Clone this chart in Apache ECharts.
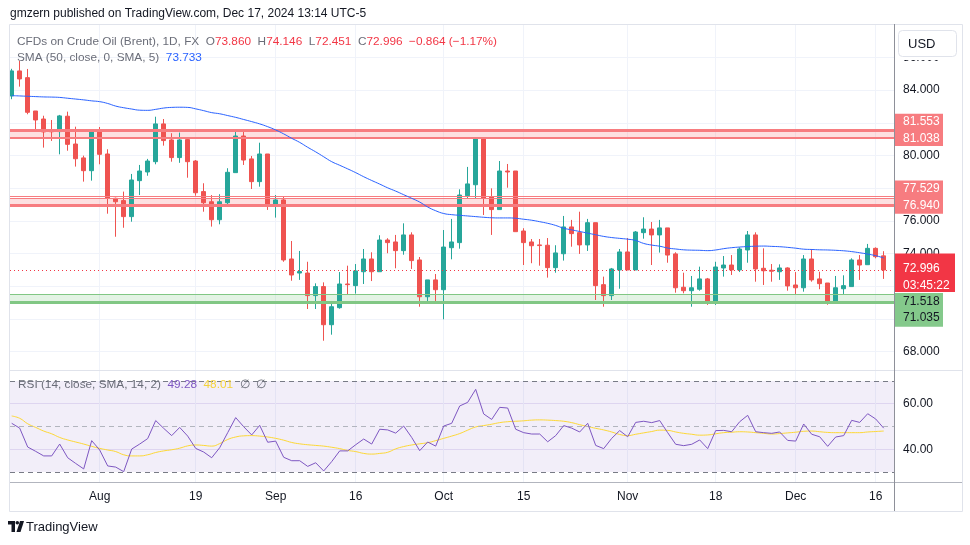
<!DOCTYPE html>
<html><head><meta charset="utf-8">
<script src="https://cdn.jsdelivr.net/npm/echarts@6/dist/echarts.min.js"></script>
<style>html,body{margin:0;padding:0;background:#fff;}#c{width:970px;height:545px;}</style>
</head><body><div id="c"></div>
<script>
// ---- data (daily bars, Jul 17 – Dec 17 2024) ----
const opens = [83.64,85.17,84.76,82.72,82.23,81.50,81.46,82.40,80.70,79.85,79.07,81.50,80.09,77.38,77.24,76.26,78.46,78.99,79.62,81.93,80.95,79.87,80.97,79.66,77.79,77.17,76.07,77.11,78.95,81.19,79.79,78.40,80.09,76.95,77.28,73.67,72.81,72.81,71.43,71.98,69.65,70.69,72.14,72.04,72.89,73.67,72.89,74.83,74.71,74.18,75.14,73.61,71.36,72.39,71.79,74.36,74.67,77.54,78.21,81.01,77.48,76.69,79.05,79.05,75.38,74.71,74.53,74.51,73.14,73.99,75.63,75.28,74.53,75.89,72.10,71.43,73.00,74.10,73.00,75.28,75.50,75.14,75.57,73.98,71.94,71.73,71.82,72.45,70.96,73.12,73.30,73.00,74.22,75.14,73.10,72.98,72.89,73.12,72.08,71.91,73.67,72.45,72.20,71.00,71.85,71.98,73.61,73.32,74.32,73.860];
const closes = [85.17,84.68,82.64,82.17,81.44,81.45,82.42,80.68,79.80,79.07,81.50,80.07,77.38,77.17,76.26,78.50,79.05,79.66,81.93,80.91,79.87,80.95,79.62,77.72,77.11,76.07,77.17,78.97,81.19,79.72,78.40,80.09,76.91,77.28,73.61,72.69,72.90,71.43,71.98,69.65,70.75,72.14,72.10,72.94,73.67,72.89,74.83,74.67,74.18,75.14,73.57,71.36,72.39,71.79,74.40,74.71,77.58,78.26,81.01,77.38,76.69,79.05,78.99,75.34,74.67,74.48,74.49,73.14,74.04,75.63,75.22,74.53,75.89,72.04,71.43,73.06,74.10,73.00,75.32,75.50,75.14,75.57,73.91,71.91,71.73,71.91,72.45,70.96,73.18,73.30,73.00,74.28,75.14,73.06,72.95,72.92,73.12,72.02,71.91,73.67,72.39,72.16,71.00,71.91,72.04,73.61,73.30,74.32,73.81,72.996];
const lows = [83.44,84.21,82.52,81.56,80.48,80.89,80.07,80.29,79.32,78.40,78.46,79.46,76.44,75.03,75.58,75.95,77.58,78.76,79.46,80.60,79.62,79.55,78.64,77.54,76.56,75.65,75.79,77.03,78.95,79.42,77.95,78.09,76.67,76.20,73.50,72.34,72.39,70.61,70.61,68.67,69.04,70.63,71.49,71.55,72.14,72.32,72.89,74.02,73.10,73.93,73.06,70.75,70.96,71.04,69.98,73.65,74.30,77.34,77.34,76.36,75.14,76.69,78.03,75.34,73.30,73.41,73.26,72.53,72.83,73.57,74.42,73.98,74.16,71.16,70.75,71.16,71.85,73.00,73.00,74.91,73.30,74.06,73.44,71.61,71.57,70.75,71.73,70.86,70.86,72.59,72.69,72.87,73.44,72.28,72.08,72.28,72.39,71.73,71.53,71.67,72.28,71.82,70.87,71.00,71.53,71.98,72.39,73.32,73.71,72.451];
const highs = [85.30,85.78,85.29,82.72,82.43,82.17,82.48,82.68,81.76,79.99,81.52,81.74,80.38,77.42,77.79,78.87,79.42,79.79,82.37,82.23,81.36,81.40,81.01,79.72,78.30,77.58,77.63,79.22,81.56,81.56,79.97,80.78,80.09,77.58,77.48,74.77,74.16,73.50,72.18,72.24,71.10,72.87,73.26,73.36,74.28,74.08,75.12,74.94,75.14,75.85,75.30,73.79,72.39,72.75,75.44,76.12,77.93,79.30,81.11,81.11,77.99,79.66,79.48,79.05,75.55,74.89,74.89,74.95,74.51,76.30,76.06,76.56,76.12,75.89,72.59,73.12,74.28,74.95,75.38,76.22,75.93,76.06,75.57,74.08,72.83,72.63,73.20,72.51,73.50,73.85,73.91,74.38,75.38,75.30,74.32,73.36,73.34,73.16,72.87,73.91,74.28,72.89,72.20,72.63,72.67,73.71,73.91,74.59,74.38,74.146];
const sma50 = [83.66,83.64,83.62,83.60,83.58,83.57,83.55,83.50,83.45,83.40,83.34,83.29,83.18,83.02,82.92,82.84,82.77,82.76,82.82,82.90,82.94,82.95,82.94,82.85,82.74,82.62,82.55,82.44,82.33,82.20,82.07,81.93,81.76,81.56,81.32,81.05,80.80,80.50,80.22,79.92,79.62,79.40,79.18,78.95,78.70,78.47,78.25,78.02,77.82,77.60,77.38,77.15,76.85,76.62,76.45,76.38,76.34,76.30,76.26,76.22,76.19,76.18,76.18,76.16,76.10,76.04,75.95,75.85,75.72,75.55,75.45,75.35,75.25,75.15,75.05,74.98,74.93,74.88,74.80,74.62,74.52,74.45,74.34,74.28,74.23,74.21,74.20,74.18,74.22,74.30,74.36,74.40,74.43,74.45,74.46,74.44,74.42,74.38,74.33,74.27,74.25,74.23,74.22,74.20,74.17,74.12,74.05,73.97,73.87,73.733];
const rsi = [51.4,49.3,41.0,39.1,37.1,37.1,42.3,36.3,33.8,31.4,43.8,39.7,32.7,32.2,30.2,40.1,42.3,44.7,52.6,49.2,46.0,49.6,45.8,40.4,38.8,36.3,40.7,47.3,53.9,49.9,46.3,50.5,43.1,43.6,36.5,35.0,35.0,32.5,34.1,30.5,34.6,39.3,39.3,42.0,44.5,42.3,48.8,48.5,47.1,50.2,45.2,39.4,43.2,41.4,50.2,51.4,59.0,60.6,66.3,55.5,53.1,58.4,58.1,48.8,47.3,46.7,46.7,43.3,46.0,50.4,49.3,47.6,51.4,41.7,40.3,44.8,48.2,45.5,51.8,52.3,51.7,52.6,47.3,42.2,41.6,42.2,44.1,40.3,48.2,48.3,47.7,52.1,54.9,47.7,47.3,47.0,47.6,43.9,43.6,51.1,46.6,45.5,41.3,45.4,46.0,52.7,51.8,55.6,53.3,49.28];
const rsiSma = [54.6,53.6,51.2,49.6,48.0,46.8,45.2,44.1,43.2,42.3,41.3,40.4,39.7,39.0,37.6,37.1,37.1,37.6,38.6,39.3,39.8,40.5,41.5,41.9,41.7,41.4,42.5,44.3,45.4,45.9,46.0,45.8,45.4,44.8,44.0,43.0,42.4,42.0,41.7,41.4,40.9,40.3,39.5,39.0,38.2,37.9,38.2,38.7,40.2,41.2,41.9,42.4,42.9,43.8,44.8,45.8,46.9,48.4,49.8,50.4,51.0,51.7,52.1,52.3,52.5,52.8,52.9,52.8,52.6,52.3,51.7,50.8,50.0,49.2,48.5,47.6,46.5,46.0,46.6,47.2,47.8,48.4,48.3,47.6,47.0,46.6,46.2,46.3,46.8,47.3,47.5,47.7,47.6,47.3,47.0,46.7,46.9,47.2,47.5,47.9,48.0,47.7,47.4,47.3,47.3,47.3,47.3,47.6,47.8,48.01];
const tickIdx = [11,23,33,43,54,64,77,88,98,108];
const tickLabels = ['Aug','19','Sep','16','Oct','15','Nov','18','Dec','16'];
const priceGridVals = [68,70,72,74,76,78,80,82,84,86];
const priceLabelVals = [68,74,76,80,84,86];
const rsiGridVals = [40,60];
const zoneRed1 = [81.553, 81.12, 81.038];
const zoneRed2 = [77.529, 77.40, 76.940];
const zoneGreen = [71.518, 71.035];
const lastPrice = 72.996;
const countdown = '03:45:22';
const changeText = '\u22120.864 (\u22121.17%)';

// ---- chart ----
const FONT = "'Liberation Sans', Arial, sans-serif";
const xMin = -0.2125, xMax = 110.2875;
const GRID = '#F0F3FA';
const RED = '#F77C80', REDF = 'rgba(247,124,128,0.24)', GRN = '#81C784', GRNF = 'rgba(129,199,132,0.22)';
function xAx(gi, labels) {
  return {type:'value', gridIndex:gi, min:xMin, max:xMax,
    axisLine:{show:false}, axisTick:{show:false, customValues:tickIdx},
    splitLine:{show:true, lineStyle:{color:GRID, width:1}},
    axisLabel: labels ? {show:true, customValues:tickIdx, formatter:v=>tickLabels[tickIdx.indexOf(Math.round(v))],
      color:'#131722', fontSize:12, fontFamily:FONT, margin:9} : {show:false}};
}
const candleData = opens.map((o,i)=>[i,o,closes[i],lows[i],highs[i]]);
const ml = (v,w,c,t)=>({yAxis:v, lineStyle:{width:w, color:c, type:t||'solid'}});
const option = {
  animation:false, backgroundColor:'#ffffff',
  grid:[{left:10,right:76,top:24,height:346},{left:10,right:76,top:370,height:112}],
  xAxis:[xAx(0,false), xAx(1,true)],
  yAxis:[
    {type:'value', gridIndex:0, position:'right', min:66.88, max:88.04, scale:true,
     axisLine:{show:false}, axisTick:{show:false, customValues:priceGridVals},
     splitLine:{show:true, lineStyle:{color:GRID}},
     axisLabel:{customValues:priceLabelVals, formatter:v=>v.toFixed(3), color:'#131722', fontSize:12, fontFamily:FONT, margin:9}},
    {type:'value', gridIndex:1, position:'right', min:25.66, max:74.78, scale:true,
     axisLine:{show:false}, axisTick:{show:false, customValues:rsiGridVals},
     splitLine:{show:true, lineStyle:{color:'#E9E4F5'}},
     axisLabel:{customValues:rsiGridVals, formatter:v=>v.toFixed(2), color:'#131722', fontSize:12, fontFamily:FONT, margin:9}}
  ],
  series:[
    {type:'candlestick', xAxisIndex:0, yAxisIndex:0, data:candleData, barWidth:5, clip:true,
     itemStyle:{color:'#26A69A', color0:'#EF5350', borderColor:'#26A69A', borderColor0:'#EF5350', borderWidth:1},
     markArea:{silent:true, data:[
       [{yAxis:zoneRed1[0], itemStyle:{color:REDF}},{yAxis:zoneRed1[1]}],
       [{yAxis:zoneRed2[1], itemStyle:{color:REDF}},{yAxis:zoneRed2[2]}],
       [{yAxis:zoneGreen[0], itemStyle:{color:GRNF}},{yAxis:zoneGreen[1]}]
     ]},
     markLine:{silent:true, symbol:['none','none'], label:{show:false}, data:[
       ml(zoneRed1[0],3,RED), ml(zoneRed1[1],1,RED), ml(zoneRed1[2],1,RED),
       ml(zoneRed2[0],1,RED), ml(zoneRed2[1],1,RED), ml(zoneRed2[2],3,RED),
       ml(zoneGreen[0],1,GRN), ml(zoneGreen[1],3,GRN),
       ml(lastPrice,1,'#F23645',[1,3])
     ]}},
    {type:'line', xAxisIndex:0, yAxisIndex:0, data:sma50.map((v,i)=>[i,v]), showSymbol:false, smooth:true,
     lineStyle:{color:'#2962FF', width:1}, z:5},
    {type:'line', xAxisIndex:1, yAxisIndex:1, data:rsiSma.map((v,i)=>[i,v]), showSymbol:false, smooth:true,
     lineStyle:{color:'#FDD835', width:1}, z:4},
    {type:'line', xAxisIndex:1, yAxisIndex:1, data:rsi.map((v,i)=>[i,v]), showSymbol:false,
     lineStyle:{color:'#7E57C2', width:1}, z:5,
     markArea:{silent:true, data:[[{yAxis:70, itemStyle:{color:'rgba(126,87,194,0.1)'}},{yAxis:30}]]},
     markLine:{silent:true, symbol:['none','none'], label:{show:false}, data:[
       ml(70,1,'#787B86',[5,4]), ml(50,1,'#B2B5BE',[5,4]), ml(30,1,'#787B86',[5,4])]}}
  ]
};
const chart = echarts.init(document.getElementById('c'));
chart.setOption(option);

const py = v => chart.convertToPixel({yAxisIndex:0}, v);
const T = (text, x, y, fill, size, extra) => Object.assign({type:'text', z:100, style:{text, x, y, fill, font:(size||12)+'px '+FONT, verticalAlign:'middle', align:'left'}}, extra||{});
const R = (x,y,w,h,fill,stroke,r) => ({type:'rect', z:99, shape:{x,y,width:w,height:h,r:r||0}, style:{fill, stroke:stroke||null, lineWidth:1}});
const L = (x1,y1,x2,y2,c) => ({type:'line', z:98, shape:{x1,y1,x2,y2}, style:{stroke:c, lineWidth:1}});

const g = [];
// price-scale top strip (hides the upper part of the top tick label)
g.push({type:'rect', z:96, shape:{x:895,y:25,width:67,height:35}, style:{fill:'#ffffff'}});
// frame lines
g.push({type:'rect', z:97, shape:{x:9.5,y:24.5,width:953,height:487}, style:{fill:null, stroke:'#E0E3EB', lineWidth:1}});
g.push(L(10,370.5,962,370.5,'#E0E3EB'));
g.push(L(10,482.5,962,482.5,'#B2B5BE'));
g.push(L(894.5,24,894.5,511,'#8E9099'));
// header
g.push(T('gmzern published on TradingView.com, Dec 17, 2024 13:14 UTC-5', 10, 14, '#131722', 12));
// legends
const GR = '#6A6D78', RD = '#F23645', LF = '11.8px '+FONT;
g.push({type:'text', z:100, style:{x:17, y:42, verticalAlign:'middle', font:LF, fill:GR,
  text:'{g|CFDs on Crude Oil (Brent), 1D, FX}  {g|O}{r|'+opens[109].toFixed(3)+'}  {g|H}{r|'+highs[109].toFixed(3)+'}  {g|L}{r|'+lows[109].toFixed(3)+'}  {g|C}{r|'+closes[109].toFixed(3)+'}  {r|'+changeText+'}',
  rich:{g:{fill:GR, font:LF}, r:{fill:RD, font:LF}}}});
g.push({type:'text', z:100, style:{x:17, y:58, verticalAlign:'middle', font:LF, fill:GR,
  text:'{g|SMA (50, close, 0, SMA, 5)}  {b|'+sma50[109].toFixed(3)+'}',
  rich:{g:{fill:GR, font:LF}, b:{fill:'#2962FF', font:LF}}}});
g.push({type:'text', z:100, style:{x:18, y:385, verticalAlign:'middle', font:LF, fill:GR,
  text:'{g|RSI (14, close, SMA, 14, 2)}  {p|'+rsi[109].toFixed(2)+'}  {y|'+rsiSma[109].toFixed(2)+'}  {g|\u2205  \u2205}',
  rich:{g:{fill:GR, font:LF}, p:{fill:'#7E57C2', font:LF}, y:{fill:'#F5D33A', font:LF}}}});
// USD button
g.push(R(898.5,30.5,58,26,'#ffffff','#E0E3EB',4));
g.push(T('USD', 908, 44, '#131722', 13));
// price tags
const z1 = py(zoneRed1[2]);
g.push(R(895, z1-24.8, 48, 32.3, RED));
g.push(T(zoneRed1[0].toFixed(3), 903, z1-17.3, '#ffffff', 12));
g.push(T(zoneRed1[2].toFixed(3), 903, z1, '#ffffff', 12));
const z2 = py(zoneRed2[2]);
g.push(R(895, z2-25, 48, 33.3, RED));
g.push(T(zoneRed2[0].toFixed(3), 903, z2-17.3, '#ffffff', 12));
g.push(T(zoneRed2[2].toFixed(3), 903, z2, '#ffffff', 12));
const lp = py(lastPrice) - 1.5;
g.push(R(895, lp-15, 60, 38.5, '#F23645'));
g.push(T(lastPrice.toFixed(3), 903, lp, '#ffffff', 12));
g.push(T(countdown, 903, lp+16.7, '#ffffff', 12));
const gz = py(zoneGreen[0]) + 7.5;
g.push(R(895, gz-8.7, 48, 33.7, '#84C98B'));
g.push(T(zoneGreen[0].toFixed(3), 903, gz, '#131722', 12));
g.push(T(zoneGreen[1].toFixed(3), 903, gz+16, '#131722', 12));
// TradingView logo
g.push({type:'rect', z:100, shape:{x:8,y:521,width:7,height:3.5}, style:{fill:'#131722'}});
g.push({type:'rect', z:100, shape:{x:11.5,y:521,width:3.5,height:11}, style:{fill:'#131722'}});
g.push({type:'circle', z:100, shape:{cx:17.3,cy:522.8,r:1.8}, style:{fill:'#131722'}});
g.push({type:'polygon', z:100, shape:{points:[[20,521],[24,521],[20.5,532],[16.5,532]]}, style:{fill:'#131722'}});
g.push(T('TradingView', 26, 527, '#131722', 13));
chart.setOption({graphic:g});
</script>
</body></html>
